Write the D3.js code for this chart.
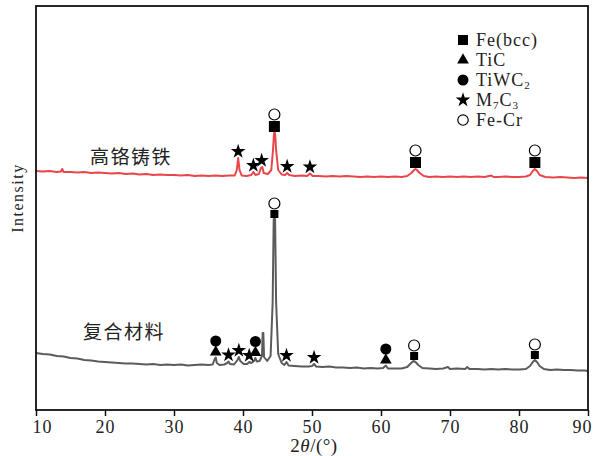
<!DOCTYPE html>
<html>
<head>
<meta charset="utf-8">
<script src="https://cdn.jsdelivr.net/npm/d3@7"></script>
<style>
  body { margin: 0; background: #fff; }
  svg { display: block; }
  .serif { font-family: "Liberation Serif", "DejaVu Serif", serif; fill: #222; }
  .cjk { font-family: "Noto Sans CJK SC", sans-serif; fill: #222; }
</style>
</head>
<body>
<svg width="593" height="456"></svg>
<script>
// XRD patterns, 2theta (deg) vs intensity (a.u.)
var highCrIron = [
  [10,241],[11,240.5],[12,241],[13,240],[13.6,240.5],[13.8,243],[14,240],[15,240],[16,239.5],[17,240],
  [18,239],[19,239.5],[20,239],[21,238.5],[22,239],[23,238],[24,238.5],[25,237.5],[26,238],[27,237],
  [28,237.5],[29,237],[30,237],[31,236.5],[32,237],[33,236],[34,236.5],[35,236],[36,236.5],[37,236],
  [38,236.5],[38.8,236.5],[39.1,242],[39.3,254],[39.5,242],[39.8,236.5],[40.5,236],[41.2,237],[41.5,240],
  [41.8,237],[42.3,238],[42.6,244],[42.8,245],[43.0,239],[43.6,238],[44.1,242],[44.35,262],[44.5,279],
  [44.65,279],[44.8,262],[45.1,242],[45.6,237.5],[46.1,237],[46.4,239],[46.7,237],[47.5,236],[48.5,236.5],
  [49.3,236],[49.7,238.5],[50.1,236],[51,236],[52,235.5],[53,236],[54,235.5],[55,236],[56,235.5],[57,235],
  [58,235.5],[59,235],[60,235.5],[61,235],[62,235.5],[63,235],[63.8,236],[64.4,239],[64.8,242],[65.0,243],
  [65.2,242],[65.6,239],[66.2,236],[67,235],[68,235.5],[69,235],[70,235.5],[71,235],[72,235.5],[73,235],
  [74,235.5],[75,235],[76,236.5],[76.3,235],[77,235],[78,235.5],[79,235],[80,235],[81,235.5],[81.6,237],
  [82.0,241],[82.3,243],[82.6,241],[83.0,237],[83.8,235],[85,234.5],[86,235],[87,234.5],[88,234],
  [89,234.5],[90,234]
];

var composite = [
  [10,59],[11,58],[12,57.5],[13,56],[14,55.5],[15,54],[16,53.5],[17,52],[18,51.5],[19,50.5],[20,50],
  [21,49.5],[22,49],[23,48.5],[24,48.5],[25,48],[26,47.5],[27,48],[28,47],[29,47.5],[30,47],[31,47.5],
  [32,46.5],[33,47],[34,47.5],[35,47],[35.6,47.5],[35.9,53],[36.05,54.5],[36.2,49],[36.6,47],[37.3,47.5],
  [37.7,49],[37.9,50.5],[38.1,48],[38.7,47.5],[39.2,52],[39.4,55],[39.6,51],[40.1,48],[40.6,48],[40.9,50],
  [41.2,49],[41.6,51],[41.8,54],[42.0,50.5],[42.4,51],[42.75,56],[42.85,79],[42.95,79],[43.05,55],
  [43.5,51],[44.0,56],[44.3,110],[44.45,193],[44.65,193],[44.8,110],[45.1,58],[45.6,49],[46.0,47],
  [46.3,50],[46.6,46.5],[47.5,46],[48.5,45.5],[49.5,45.5],[50.0,46],[50.3,48],[50.6,45.5],[51.5,45],
  [52.5,45.5],[53.5,44.5],[54.5,44.5],[55.5,44],[56.5,44.5],[57.5,43.5],[58.5,44],[59.5,43.5],[60.3,44],
  [60.7,46.5],[61.0,43.5],[62,43.5],[63,43.5],[63.8,45],[64.3,48.5],[64.7,51],[65.0,50],[65.4,47],
  [66.0,44],[67,43.5],[68,43],[69,43.5],[69.7,45],[70,43],[71,43.5],[72.2,43],[72.5,45],[72.8,43],
  [74,43],[75,42.5],[76,43],[77,42.5],[78,43],[79,42.5],[80,42.5],[81,43],[81.6,46],[82.0,50],[82.3,52],
  [82.6,50],[83.0,46],[83.6,43],[84.5,42],[85.5,42.5],[86.5,42],[87.5,42],[88.5,41.5],[89.5,41.5],[90,41]
];

// peak markers: [2theta, peak intensity, phases stacked from bottom]
var highCrPeaks = [
  [39.3, 254, ['M7C3']],
  [41.5, 240, ['M7C3']],
  [42.7, 245, ['M7C3']],
  [44.55, 279, ['Fe', 'FeCr']],
  [46.4, 239, ['M7C3']],
  [49.7, 238.5, ['M7C3']],
  [65.0, 243, ['Fe', 'FeCr']],
  [82.3, 243, ['Fe', 'FeCr']]
];

var compositePeaks = [
  [36.05, 54.5, ['TiC', 'TiWC2']],
  [37.9, 50.5, ['M7C3']],
  [39.4, 55, ['M7C3']],
  [40.9, 50, ['M7C3']],
  [41.8, 54, ['TiC', 'TiWC2']],
  [44.55, 193, ['Fe', 'FeCr']],
  [46.3, 50, ['M7C3']],
  [50.3, 48, ['M7C3']],
  [60.7, 46.5, ['TiC', 'TiWC2']],
  [64.8, 51, ['Fe', 'FeCr']],
  [82.3, 52, ['Fe', 'FeCr']]
];

var phases = ['Fe', 'TiC', 'TiWC2', 'M7C3', 'FeCr'];
var phaseLabels = [['Fe(bcc)'], ['TiC'], ['TiWC', '2'], ['M', '7', 'C', '3'], ['Fe-Cr']];
var xTicks = [10, 20, 30, 40, 50, 60, 70, 80, 90];

var svg = d3.select('svg');
var plotLeft = 36, plotRight = 588, plotTop = 6, plotBottom = 410;

var x = d3.scaleLinear().domain([10, 90]).range([plotLeft, plotRight]);
var y = d3.scaleLinear().domain([0, 406]).range([412, 6]);

var line = d3.line()
  .x(d => x(d[0]))
  .y(d => y(d[1]));

svg.append('path')
  .datum(composite)
  .attr('fill', 'none')
  .attr('stroke', '#5b5b5b')
  .attr('stroke-width', 2)
  .attr('stroke-linejoin', 'round')
  .attr('d', line);

svg.append('path')
  .datum(highCrIron)
  .attr('fill', 'none')
  .attr('stroke', '#e8464a')
  .attr('stroke-width', 2)
  .attr('stroke-linejoin', 'round')
  .attr('d', line);

// symbol shapes
var shape = {
  Fe: { type: d3.symbolSquare, h: 10 },
  TiC: { type: d3.symbolTriangle, h: 9 },
  TiWC2: { type: d3.symbolCircle, h: 11 },
  M7C3: { type: d3.symbolStar, h: 14 },
  FeCr: { type: d3.symbolCircle, h: 11 }
};

function symbolSize(p, scale) {
  var s = shape[p].h * scale;
  if (p === 'Fe') return s * s;
  if (p === 'TiC') return s * s * 1.3 * Math.sqrt(3) / 4 * 1.3;
  if (p === 'M7C3') return (s * 0.55) * (s * 0.55) / 0.8908130915292852;
  return Math.PI * (s / 2) * (s / 2);
}

function drawSymbol(g, p, cx, cy, scale) {
  g.append('path')
    .attr('d', d3.symbol().type(shape[p].type).size(symbolSize(p, scale))())
    .attr('transform', 'translate(' + cx + ',' + cy + ')')
    .attr('fill', p === 'FeCr' ? '#fff' : '#000')
    .attr('stroke', '#000')
    .attr('stroke-width', p === 'FeCr' ? 1.2 : 0);
}

function drawPeaks(list, feScale) {
  var g = svg.append('g');
  list.forEach(function(pk) {
    var cy = y(pk[1]) - 1;
    pk[2].forEach(function(p) {
      var sc = p === 'Fe' ? feScale : 1;
      var h = shape[p].h * sc;
      if (p === 'M7C3') h = 11;
      cy -= h / 2;
      drawSymbol(g, p, x(pk[0]), cy, sc);
      cy -= h / 2 + 1;
    });
  });
}

drawPeaks(highCrPeaks, 1.1);
drawPeaks(compositePeaks, 0.8);

// frame
svg.append('rect')
  .attr('x', plotLeft)
  .attr('y', plotTop)
  .attr('width', plotRight - plotLeft)
  .attr('height', plotBottom - plotTop)
  .attr('fill', 'none')
  .attr('stroke', '#111')
  .attr('stroke-width', 1.8);

// x axis
var xAxis = svg.append('g')
  .attr('transform', 'translate(0,' + plotBottom + ')')
  .call(d3.axisBottom(x).tickValues(xTicks).tickSize(6).tickSizeOuter(0).tickPadding(4));
xAxis.select('.domain').remove();
xAxis.selectAll('line').attr('stroke', '#111').attr('stroke-width', 1.5);
xAxis.selectAll('text')
  .attr('class', 'serif')
  .style('font-size', '18px')
  .style('letter-spacing', '1px')
  .attr('fill', '#222')
  .attr('dx', function(d) { return d === 10 ? 6 : d === 90 ? -6 : 0; });

svg.append('text')
  .attr('class', 'serif')
  .attr('x', 314)
  .attr('y', 452)
  .attr('text-anchor', 'middle')
  .style('font-size', '19px')
  .style('letter-spacing', '0.5px')
  .html('2<tspan font-style="italic">θ</tspan>/(°)');

svg.append('text')
  .attr('class', 'serif')
  .attr('transform', 'translate(23,198) rotate(-90)')
  .attr('text-anchor', 'middle')
  .style('font-size', '16px')
  .style('letter-spacing', '1.5px')
  .text('Intensity');

// sample labels
svg.append('text')
  .attr('class', 'cjk')
  .attr('x', 90)
  .attr('y', 164)
  .style('font-size', '19px')
  .style('letter-spacing', '1.5px')
  .text('高铬铸铁');

svg.append('text')
  .attr('class', 'cjk')
  .attr('x', 83)
  .attr('y', 339)
  .style('font-size', '19px')
  .style('letter-spacing', '1.5px')
  .text('复合材料');

// legend
var legend = svg.append('g');
phases.forEach(function(p, i) {
  var ly = 40 + i * 20;
  drawSymbol(legend, p, 463, ly, p === 'FeCr' ? 0.95 : 1);
  var t = legend.append('text')
    .attr('class', 'serif')
    .attr('x', 476)
    .attr('y', ly + 6)
    .style('font-size', '18px')
    .style('letter-spacing', '1px');
  phaseLabels[i].forEach(function(part, j) {
    var sub = j % 2 === 1;
    t.append('tspan')
      .attr('font-size', sub ? '11px' : null)
      .attr('dy', sub ? 3 : (j > 0 ? -3 : 0))
      .text(part);
  });
});
</script>
</body>
</html>
